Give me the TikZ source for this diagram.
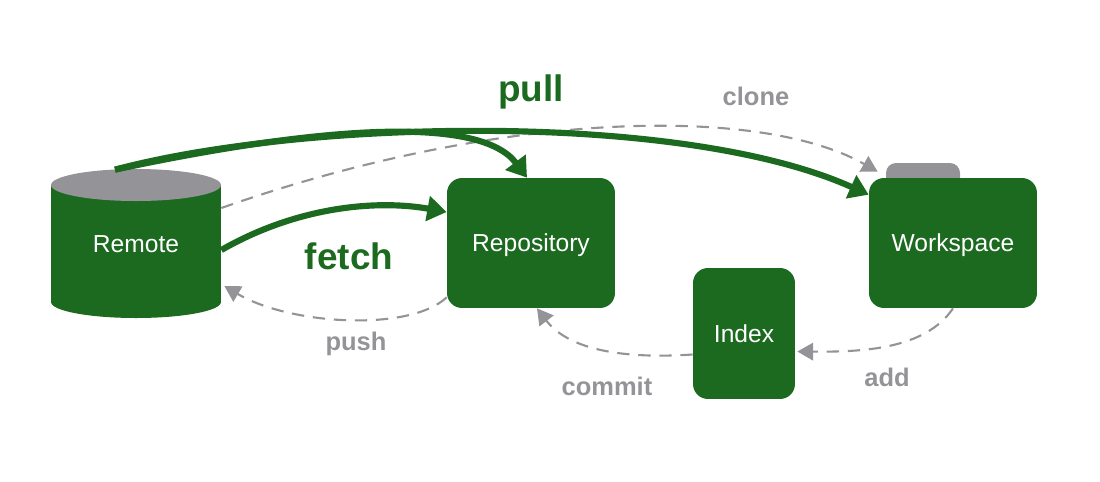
\documentclass[tikz,border=0pt]{standalone}
\usepackage{fontspec}
\setmainfont{Liberation Sans}
\usetikzlibrary{arrows.meta,calc}
\definecolor{gitgreen}{RGB}{27,106,31}
\definecolor{gitgray}{RGB}{148,148,152}
\begin{document}
\begin{tikzpicture}[x=0.02cm, y=-0.02cm,
    box/.style={fill=gitgreen, rounded corners=0.3cm, text=white, text depth=0pt, font=\fontsize{14}{16}\selectfont},
    flow/.style={draw=gitgreen, line width=3.5pt, -{Triangle[length=11pt,width=14pt]}},
    back/.style={draw=gitgray, line width=1.2pt, dash pattern=on 7pt off 5pt, -{Triangle[length=9pt,width=10pt]}},
    biglabel/.style={text=gitgreen, font=\fontsize{21}{24}\selectfont\bfseries},
    smalllabel/.style={text=gitgray, font=\fontsize{14.5}{16}\selectfont\bfseries}]
            \useasboundingbox (0,0) rectangle (1100,481);
            % cylinder for the remote (body, bottom, gray lid)
            \fill[gitgreen] (51,185) rectangle (221,302);
            \fill[gitgreen] (136,302) ellipse (85 and 16);
            \fill[gitgray] (136,185) ellipse (85 and 16);
            \node[text=white, text depth=0pt, font=\fontsize{14}{16}\selectfont, minimum width=3.4cm, minimum height=2.96cm] (remote) at (136,244) {Remote};
            % boxes (tab of the workspace first)
            \fill[gitgray, rounded corners=0.2cm] (886,190) rectangle (960,163);
            \node[box, minimum width=3.36cm, minimum height=2.6cm] (repo) at (531,243) {Repository};
            \node[box, minimum width=3.36cm, minimum height=2.6cm] (work) at (953,243) {Workspace};
            \node[box, minimum width=2.04cm, minimum height=2.62cm] (index) at (744,333.5) {Index};
            % dashed gray arrows
            \draw[back] ($(remote.east)+(0,-36)$) .. controls (500,110) and (760,105) .. ($(work.north west)+(9,-6)$);
            \draw[back] ($(repo.south west)+(0,-11)$) .. controls (410,332) and (290,325) .. ($(remote.east)+(3,42)$);
            \draw[back] ($(index.west)+(0,21)$) .. controls (610,360) and (565,345) .. ($(repo.south)+(6,0)$);
            \draw[back] (work.south) .. controls (925,350) and (860,352) .. ($(index.east)+(2,18)$);
            % green arrows
            \draw[flow] ($(remote.north)+(-21,0)$) .. controls (300,120) and (680,110) .. ($(work.north west)+(0,17)$);
            \draw[flow] ($(remote.north)+(-21,0)$) .. controls (320,126) and (480,115) .. ($(repo.north)+(-4,0)$);
            \draw[flow] ($(remote.east)+(0,6)$) .. controls (300,205) and (380,200) .. ($(repo.west)+(0,-31)$);
            % labels
            \node[biglabel] (pulllbl) at (531,92) {pull};
            \node[biglabel] (fetchlbl) at (349,256) {fetch};
            \node[smalllabel] (clonelbl) at (756,96) {clone};
            \node[smalllabel] (pushlbl) at (356,344) {push};
            \node[smalllabel] (commitlbl) at (607,386) {commit};
            \node[smalllabel] (addlbl) at (887,377) {add};
        \end{tikzpicture}
\end{document}
